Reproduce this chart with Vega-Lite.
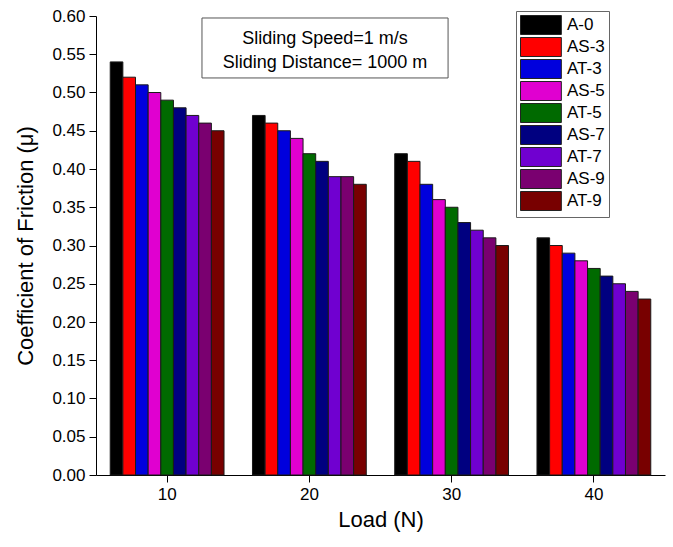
{
  "$schema": "https://vega.github.io/schema/vega-lite/v6.json",
  "width": 569,
  "height": 459,
  "autosize": "none",
  "padding": {"left": 96, "top": 16, "right": 8, "bottom": 72},
  "background": "white",
  "config": {
    "view": {"stroke": null},
    "font": "Liberation Sans",
    "axis": {
      "domainColor": "black", "tickColor": "black", "labelColor": "black", "titleColor": "black",
      "labelFont": "Liberation Sans", "titleFont": "Liberation Sans", "titleFontWeight": "normal",
      "labelFontSize": 17, "titleFontSize": 22, "grid": false, "tickSize": 7, "domainWidth": 1, "tickWidth": 1
    }
  },
  "layer": [
    {
      "data": {
        "values": [
          {"load": "10", "sample": "A-0", "cof": 0.54},
          {"load": "10", "sample": "AS-3", "cof": 0.52},
          {"load": "10", "sample": "AT-3", "cof": 0.51},
          {"load": "10", "sample": "AS-5", "cof": 0.50},
          {"load": "10", "sample": "AT-5", "cof": 0.49},
          {"load": "10", "sample": "AS-7", "cof": 0.48},
          {"load": "10", "sample": "AT-7", "cof": 0.47},
          {"load": "10", "sample": "AS-9", "cof": 0.46},
          {"load": "10", "sample": "AT-9", "cof": 0.45},
          {"load": "20", "sample": "A-0", "cof": 0.47},
          {"load": "20", "sample": "AS-3", "cof": 0.46},
          {"load": "20", "sample": "AT-3", "cof": 0.45},
          {"load": "20", "sample": "AS-5", "cof": 0.44},
          {"load": "20", "sample": "AT-5", "cof": 0.42},
          {"load": "20", "sample": "AS-7", "cof": 0.41},
          {"load": "20", "sample": "AT-7", "cof": 0.39},
          {"load": "20", "sample": "AS-9", "cof": 0.39},
          {"load": "20", "sample": "AT-9", "cof": 0.38},
          {"load": "30", "sample": "A-0", "cof": 0.42},
          {"load": "30", "sample": "AS-3", "cof": 0.41},
          {"load": "30", "sample": "AT-3", "cof": 0.38},
          {"load": "30", "sample": "AS-5", "cof": 0.36},
          {"load": "30", "sample": "AT-5", "cof": 0.35},
          {"load": "30", "sample": "AS-7", "cof": 0.33},
          {"load": "30", "sample": "AT-7", "cof": 0.32},
          {"load": "30", "sample": "AS-9", "cof": 0.31},
          {"load": "30", "sample": "AT-9", "cof": 0.30},
          {"load": "40", "sample": "A-0", "cof": 0.31},
          {"load": "40", "sample": "AS-3", "cof": 0.30},
          {"load": "40", "sample": "AT-3", "cof": 0.29},
          {"load": "40", "sample": "AS-5", "cof": 0.28},
          {"load": "40", "sample": "AT-5", "cof": 0.27},
          {"load": "40", "sample": "AS-7", "cof": 0.26},
          {"load": "40", "sample": "AT-7", "cof": 0.25},
          {"load": "40", "sample": "AS-9", "cof": 0.24},
          {"load": "40", "sample": "AT-9", "cof": 0.23}
        ]
      },
      "mark": {"type": "bar", "stroke": "#1a1a1a", "strokeWidth": 1, "opacity": 1},
      "encoding": {
        "x": {
          "field": "load", "type": "nominal", "sort": ["10", "20", "30", "40"],
          "scale": {"paddingInner": 0.2, "paddingOuter": 0.1},
          "axis": {"labelAngle": 0, "title": "Load (N)", "labelPadding": 4, "titlePadding": 7, "domainExtent": 0}
        },
        "xOffset": {
          "field": "sample", "type": "nominal",
          "sort": ["A-0", "AS-3", "AT-3", "AS-5", "AT-5", "AS-7", "AT-7", "AS-9", "AT-9"],
          "scale": {"paddingInner": 0, "paddingOuter": 0}
        },
        "y": {
          "field": "cof", "type": "quantitative",
          "scale": {"domain": [0, 0.6], "nice": false, "zero": true},
          "axis": {
            "title": "Coefficient of Friction (μ)",
            "tickCount": 12,
            "format": ".2f", "labelPadding": 4, "titlePadding": 14,
            "labelOverlap": false, "labelSeparation": 0, "labelBound": false
          }
        },
        "color": {
          "field": "sample", "type": "nominal",
          "scale": {
            "domain": ["A-0", "AS-3", "AT-3", "AS-5", "AT-5", "AS-7", "AT-7", "AS-9", "AT-9"],
            "range": ["#000000", "#FF0000", "#0000DD", "#E000D0", "#006A00", "#000080", "#7000D0", "#7A0070", "#780000"]
          },
          "legend": {
            "orient": "none", "legendX": 420, "legendY": -5, "title": null,
            "symbolType": "M-1,-1h4.3v2h-4.3z", "symbolSize": 361,
            "symbolStrokeColor": "#222", "symbolStrokeWidth": 1, "symbolOpacity": 1,
            "labelFontSize": 17, "labelFont": "Liberation Sans", "labelColor": "black",
            "strokeColor": "#666", "fillColor": "white", "padding": 4, "rowPadding": -5, "labelOffset": 27
          }
        }
      }
    },
    {
      "data": {"values": [{"note": "Sliding Speed=1 m/s\nSliding Distance= 1000 m"}]},
      "layer": [
        {
          "mark": {"type": "rect", "fill": "white", "stroke": "#555", "strokeWidth": 1},
          "encoding": {
            "x": {"datum": 12.45, "type": "quantitative", "scale": {"domain": [5, 45], "nice": false, "zero": false}, "axis": null},
            "x2": {"datum": 29.75},
            "y": {"datum": 0.5974, "type": "quantitative", "scale": {"domain": [0, 0.6], "nice": false, "zero": true}, "axis": null},
            "y2": {"datum": 0.519}
          }
        },
        {
          "mark": {"type": "text", "fontSize": 18, "font": "Liberation Sans", "color": "black", "lineBreak": "\n", "lineHeight": 24, "align": "center", "baseline": "middle"},
          "encoding": {
            "x": {"datum": 21.1, "type": "quantitative", "scale": {"domain": [5, 45], "nice": false, "zero": false}, "axis": null},
            "y": {"datum": 0.5699, "type": "quantitative", "scale": {"domain": [0, 0.6], "nice": false, "zero": true}, "axis": null},
            "text": {"field": "note"}
          }
        }
      ]
    }
  ],
  "resolve": {"scale": {"x": "independent", "y": "independent"}, "axis": {"x": "independent", "y": "independent"}}
}
